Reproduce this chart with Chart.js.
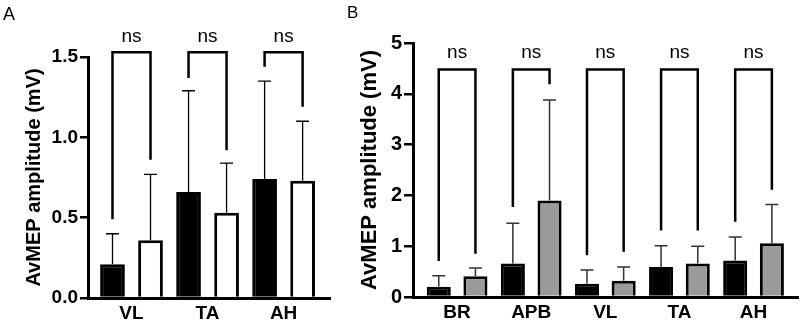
<!DOCTYPE html>
<html>
<head>
<meta charset="utf-8">
<script src="https://cdn.jsdelivr.net/npm/chart.js@4.4.1/dist/chart.umd.min.js"></script>
<style>
  body { margin: 0; background: #fff; }
  #wrap { position: relative; width: 800px; height: 322px; overflow: hidden; }
  canvas { position: absolute; top: 0; }
</style>
</head>
<body>
<div id="wrap">
  <canvas id="chartA" width="340" height="322" style="left:0"></canvas>
  <canvas id="chartB" width="460" height="322" style="left:340px"></canvas>
</div>
<script>
// panel A
const catsA = ["VL", "TA", "AH"];
const meanA1 = [0.21, 0.66, 0.74];
const sdA1 = [0.19, 0.63, 0.61];
const meanA2 = [0.36, 0.53, 0.73];
const sdA2 = [0.41, 0.31, 0.37];
const brTopA = [1.53, 1.53, 1.53];
const brLeftA = [0.49, 1.37, 1.44];
const brRightA = [0.86, 0.92, 1.19];
const ticksA = [0, 0.5, 1.0, 1.5];

// panel B
const catsB = ["BR", "APB", "VL", "TA", "AH"];
const meanB1 = [0.20, 0.66, 0.26, 0.59, 0.72];
const sdB1 = [0.22, 0.79, 0.27, 0.42, 0.46];
const meanB2 = [0.41, 1.90, 0.32, 0.66, 1.06];
const sdB2 = [0.16, 1.98, 0.27, 0.34, 0.76];
const brTopB = [4.48, 4.48, 4.48, 4.48, 4.48];
const brLeftB = [0.71, 1.77, 0.82, 1.31, 1.48];
const brRightB = [0.85, 4.19, 0.89, 1.31, 2.11];
const ticksB = [0, 1, 2, 3, 4, 5];

const FONT = "'Liberation Sans', Arial, Helvetica, sans-serif";

// error bars (upper only) + significance brackets + panel letter
const extras = {
  id: "extras",
  afterDatasetsDraw(chart, args, opts) {
    const ctx = chart.ctx;
    const y = chart.scales.y;
    ctx.save();
    // error bars
    opts.sd.forEach((sd, di) => {
      const meta = chart.getDatasetMeta(di);
      meta.data.forEach((bar, i) => {
        const top = y.getPixelForValue(opts.mean[di][i] + sd[i]);
        ctx.strokeStyle = opts.errColor;
        ctx.lineWidth = opts.errWidth;
        ctx.beginPath();
        ctx.moveTo(bar.x, bar.y);
        ctx.lineTo(bar.x, top);
        ctx.moveTo(bar.x - 6.5, top);
        ctx.lineTo(bar.x + 6.5, top);
        ctx.stroke();
      });
    });
    // brackets
    const m0 = chart.getDatasetMeta(0).data;
    const m1 = chart.getDatasetMeta(1).data;
    ctx.strokeStyle = "#000";
    ctx.lineWidth = 2.5;
    ctx.lineJoin = "miter";
    ctx.fillStyle = "#000";
    ctx.font = opts.nsSize + "px " + FONT;
    ctx.textAlign = "center";
    ctx.textBaseline = "middle";
    opts.top.forEach((t, i) => {
      const x0 = m0[i].x, x1 = m1[i].x;
      const yt = y.getPixelForValue(t);
      ctx.beginPath();
      ctx.moveTo(x0, y.getPixelForValue(opts.left[i]));
      ctx.lineTo(x0, yt);
      ctx.lineTo(x1, yt);
      ctx.lineTo(x1, y.getPixelForValue(opts.right[i]));
      ctx.stroke();
      ctx.fillText("ns", (x0 + x1) / 2, yt - opts.nsGap);
    });
    // panel letter
    ctx.textAlign = "left";
    ctx.textBaseline = "alphabetic";
    ctx.font = opts.letterSize + "px " + FONT;
    ctx.fillText(opts.letter, opts.letterX, opts.letterY);
    ctx.restore();
  }
};

function makeChart(id, cfg) {
  return new Chart(document.getElementById(id), {
    type: "bar",
    data: {
      datasets: [
        {
          data: cfg.mean1.map((v, i) => ({ x: i, y: v })),
          backgroundColor: "#000",
          borderColor: "#000",
          borderWidth: 3
        },
        {
          data: cfg.mean2.map((v, i) => ({ x: i, y: v })),
          backgroundColor: cfg.fill2,
          borderColor: "#000",
          borderWidth: 3
        }
      ]
    },
    options: {
      responsive: false,
      animation: false,
      events: [],
      categoryPercentage: cfg.catPct,
      barPercentage: cfg.barPct,
      layout: { padding: { top: cfg.top, right: cfg.right, left: 0, bottom: 0 } },
      plugins: {
        legend: { display: false },
        tooltip: { enabled: false },
        extras: {
          sd: [cfg.sd1, cfg.sd2],
          mean: [cfg.mean1, cfg.mean2],
          top: cfg.brTop, left: cfg.brLeft, right: cfg.brRight,
          errColor: cfg.errColor, errWidth: cfg.errWidth,
          nsSize: 19, nsGap: cfg.nsGap,
          letter: cfg.letter, letterX: cfg.letterX, letterY: cfg.letterY, letterSize: cfg.letterSize
        }
      },
      scales: {
        x: {
          type: "linear",
          min: cfg.xMin,
          max: cfg.xMax,
          offset: false,
          afterFit: s => { s.height = cfg.xHeight; },
          afterBuildTicks: s => { s.ticks = cfg.cats.map((c, i) => ({ value: i })); },
          grid: { display: false, drawTicks: false },
          border: { display: true, color: "#000", width: 3 },
          ticks: {
            autoSkip: false,
            maxRotation: 0,
            padding: 4,
            color: "#000",
            font: { family: FONT, size: cfg.catSize, weight: "bold" },
            callback: v => cfg.cats[v]
          }
        },
        y: {
          min: 0,
          max: cfg.yMax,
          afterFit: s => { s.width = cfg.yWidth; },
          afterBuildTicks: s => { s.ticks = cfg.yTicks.map(v => ({ value: v })); },
          grid: { drawOnChartArea: false, drawTicks: true, tickLength: cfg.tickLen, color: "#000", lineWidth: 2.5 },
          border: { display: true, color: "#000", width: 3 },
          ticks: {
            padding: 2,
            color: "#000",
            font: { family: FONT, size: cfg.tickSize, weight: "bold" },
            callback: v => cfg.tickFmt(v)
          },
          title: {
            display: true,
            text: "AvMEP amplitude (mV)",
            color: "#000",
            padding: { top: cfg.titlePad, bottom: 0 },
            font: { family: FONT, size: cfg.titleSize, weight: "bold" }
          }
        }
      }
    },
    plugins: [extras]
  });
}

makeChart("chartA", {
  cats: catsA, mean1: meanA1, sd1: sdA1, mean2: meanA2, sd2: sdA2,
  brTop: brTopA, brLeft: brLeftA, brRight: brRightA,
  fill2: "#fff", errColor: "#000", errWidth: 1.3,
  catPct: 1.0, barPct: 0.65,
  xMin: -0.572, xMax: 2.61, yMax: 1.5, yTicks: ticksA,
  tickFmt: v => v.toFixed(1),
  top: 57, right: 10, xHeight: 24, yWidth: 88, tickLen: 8,
  tickSize: 19, catSize: 19, titleSize: 20, titlePad: 22,
  nsGap: 15, letter: "A", letterX: 3, letterY: 20, letterSize: 18
});

makeChart("chartB", {
  cats: catsB, mean1: meanB1, sd1: sdB1, mean2: meanB2, sd2: sdB2,
  brTop: brTopB, brLeft: brLeftB, brRight: brRightB,
  fill2: "#9a9a9a", errColor: "#333", errWidth: 1.5,
  catPct: 0.99, barPct: 0.656,
  xMin: -0.595, xMax: 4.60, yMax: 5, yTicks: ticksB,
  tickFmt: v => String(v),
  top: 43, right: 2, xHeight: 25, yWidth: 73, tickLen: 9,
  tickSize: 20, catSize: 19, titleSize: 22, titlePad: 17,
  nsGap: 17, letter: "B", letterX: 7, letterY: 18, letterSize: 17
});
</script>
</body>
</html>
